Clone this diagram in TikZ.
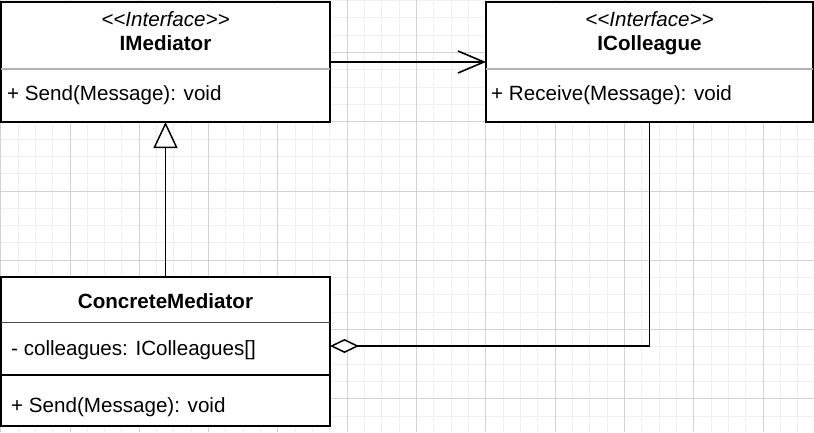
\documentclass[tikz,border=0pt]{standalone}
\usepackage{fontspec}
\setmainfont{Liberation Sans}
\usetikzlibrary{arrows.meta,positioning}

\newcommand{\umlfont}{\fontsize{20.6}{24}\selectfont}
\newcommand{\stereotype}[1]{<\kern0pt<#1>\kern0pt>}

\begin{document}
\begin{tikzpicture}[x=1pt, y=-1pt, node distance=155pt, font=\umlfont]

		\tikzstyle{minorline}=[gray!12, line width=1pt]
		\tikzstyle{majorline}=[gray!35, line width=1pt]
		\tikzstyle{iface}=[draw, line width=2pt, fill=white, minimum width=329pt,
		minimum height=120pt, inner sep=0pt, outer sep=0pt]
		\tikzstyle{cls}=[draw, line width=1.5pt, fill=white, minimum width=329pt,
		minimum height=149pt, inner sep=0pt, outer sep=0pt]
		\tikzstyle{stereo}=[inner sep=0pt, anchor=base, font=\umlfont\itshape]
		\tikzstyle{title}=[inner sep=0pt, anchor=base, font=\umlfont\bfseries]
		\tikzstyle{member}=[inner sep=0pt, anchor=base west]
		\tikzstyle{lightsep}=[gray!60, line width=1.5pt]
		\tikzstyle{assoc}=[line width=1.6pt, -{Straight Barb[length=26pt, width=22pt]}]
		\tikzstyle{inherit}=[line width=1.5pt, -{Triangle[length=26pt, width=24pt, fill=white]}]
		\tikzstyle{aggr}=[line width=1.5pt, {Diamond[length=29pt, width=14pt, fill=white]}-]

		\useasboundingbox (0,0) rectangle (814,432);

		% Grid background
		\fill[white] (0,0) rectangle (814,432);
		\foreach \i in {0,...,46} \draw[minorline] ({0.7+17.325*\i},0) -- ++(0,432);
		\foreach \j in {0,...,24} \draw[minorline] (0,{0.425+17.325*\j}) -- ++(814,0);
		\foreach \i in {0,...,11} \draw[majorline] ({0.7+69.3*\i},0) -- ++(0,432);
		\foreach \j in {0,...,5} \draw[majorline] (0,{52.4+69.3*\j}) -- ++(814,0);

		% Interfaces
		\node[iface] (med) at (165.5,62) {};
		\node[iface, minimum width=327pt, right=156pt of med] (col) {};
		\draw[lightsep] ([yshift=-67pt]med.north west) -- ([yshift=-67pt]med.north east);
		\draw[lightsep] ([yshift=-67pt]col.north west) -- ([yshift=-67pt]col.north east);

		\node[stereo] (medst) at ([yshift=-24pt]med.north) {\stereotype{Interface}};
		\node[title] (medname) at ([yshift=-48pt]med.north) {IMediator};
		\node[member] (medop) at ([xshift=6pt, yshift=-98pt]med.north west) {+ Send(Message): void};

		\node[stereo] (colst) at ([yshift=-24pt]col.north) {\stereotype{Interface}};
		\node[title] (colname) at ([yshift=-48pt]col.north) {IColleague};
		\node[member] (colop) at ([xshift=5pt, yshift=-98pt]col.north west) {+ Receive(Message): void};

		% Concrete class
		\node[cls, below=of med] (conc) {};
		\draw[black!70, line width=1pt] ([yshift=-45pt]conc.north west) -- ([yshift=-45pt]conc.north east);
		\draw[line width=2pt] ([yshift=-98pt]conc.north west) -- ([yshift=-98pt]conc.north east);
		\node[title] (concname) at ([yshift=-31pt]conc.north) {ConcreteMediator};
		\node[member] (concattr) at ([xshift=10pt, yshift=-78pt]conc.north west) {- colleagues: IColleagues[]};
		\node[member] (concop) at ([xshift=10pt, yshift=-135pt]conc.north west) {+ Send(Message): void};

		% Relations
		\draw[assoc] (med.east) -- (col.west);
		\draw[inherit] (conc.north) -- (med.south);
		\draw[aggr] ([yshift=5.5pt]conc.east) -| (col.south);

\end{tikzpicture}
\end{document}
